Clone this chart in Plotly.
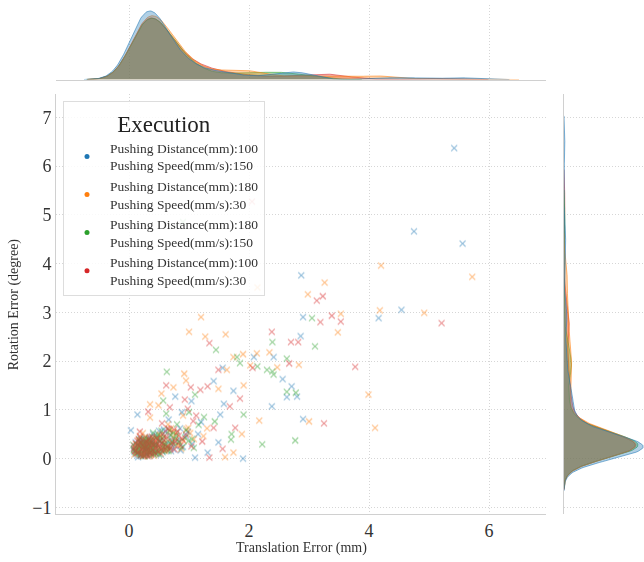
import numpy as np
import plotly.graph_objects as go

series_names = [
    "Pushing Distance(mm):100<br>Pushing Speed(mm/s):150",
    "Pushing Distance(mm):180<br>Pushing Speed(mm/s):30",
    "Pushing Distance(mm):180<br>Pushing Speed(mm/s):150",
    "Pushing Distance(mm):100<br>Pushing Speed(mm/s):30",
]
colors = ["#1f77b4", "#ff7f0e", "#2ca02c", "#d62728"]
x_ticks = [0, 2, 4, 6]
y_ticks = [-1, 0, 1, 2, 3, 4, 5, 6, 7]

# ---- series 1 (blue) ----
blue_trans = [
    5.42, 4.75, 5.56, 2.87, 4.54, 4.16, 2.90, 2.86, 2.90, 1.90, 2.38, 2.63, 2.80, 2.71, 2.56,
    2.41, 2.08, 1.56, 0.77, 1.04, 1.41, 1.74, 1.58, 1.52, 1.49, 1.31, 1.10, 0.14, 0.03,
    0.85, 1.20, 0.95, 0.60, 1.05, 0.72, 0.66, 1.15, 0.88,
    0.12, 0.18, 0.22, 0.25, 0.28, 0.31, 0.33, 0.35, 0.38, 0.41, 0.15, 0.20, 0.24, 0.27, 0.30,
    0.32, 0.36, 0.39, 0.44, 0.48, 0.10, 0.17, 0.21, 0.26, 0.29, 0.34, 0.37, 0.42, 0.52, 0.58,
    0.08, 0.14, 0.23, 0.31, 0.35, 0.40, 0.46, 0.55, 0.63, 0.70, 0.19, 0.27, 0.33, 0.28, 0.36,
    0.25, 0.30, 0.43, 0.50, 0.38,
    0.09, 0.13, 0.16, 0.21, 0.24, 0.29, 0.34, 0.37, 0.45, 0.51, 0.56, 0.61, 0.68, 0.74, 0.81,
    0.90, 0.98, 0.11, 0.19, 0.26, 0.32, 0.39, 0.47, 0.53, 0.65, 0.77, 0.86, 0.20, 0.28, 0.35,
    0.42, 0.58, 0.71, 0.15, 0.31,
]
blue_rot = [
    6.37, 4.66, 4.41, 3.76, 3.05, 2.88, 2.90, 2.51, 0.81, 0.00, 1.07, 1.26, 1.27, 1.48, 1.63,
    2.08, 2.08, 1.86, 1.27, 1.18, 1.59, 1.39, 1.12, 0.90, 0.33, 0.12, 0.02, 0.90, 0.58,
    0.62, 0.75, 0.45, 0.55, 0.30, 0.38, 0.80, 0.50, 0.95,
    0.10, 0.22, 0.15, 0.31, 0.08, 0.19, 0.26, 0.12, 0.35, 0.21, 0.28, 0.05, 0.18, 0.24, 0.40,
    0.14, 0.20, 0.09, 0.30, 0.17, 0.16, 0.33, 0.25, 0.11, 0.21, 0.29, 0.38, 0.13, 0.23, 0.45,
    0.20, 0.07, 0.36, 0.27, 0.18, 0.50, 0.10, 0.32, 0.26, 0.15, 0.42, 0.19, 0.06, 0.24, 0.13,
    0.28, 0.34, 0.22, 0.57, 0.17,
    0.14, 0.25, 0.09, 0.31, 0.18, 0.42, 0.06, 0.27, 0.21, 0.35, 0.13, 0.29, 0.48, 0.19, 0.38,
    0.24, 0.55, 0.33, 0.16, 0.22, 0.11, 0.30, 0.46, 0.08, 0.36, 0.26, 0.17, 0.39, 0.12, 0.44,
    0.20, 0.60, 0.28, 0.03, 0.23,
]

# ---- series 2 (orange) ----
orange_trans = [
    2.14, 4.20, 5.72, 3.26, 2.98, 4.18, 4.92, 1.20, 3.53, 3.48, 1.00, 1.27, 1.61, 3.99, 4.10,
    3.00, 2.17, 1.74, 1.24, 0.99, 0.35, 2.34, 2.83, 2.47, 2.13, 1.90, 1.74, 2.02, 1.63, 0.92,
    0.95, 0.74, 1.49, 1.91, 0.54, 0.35, 0.49, 1.88, 1.60,
    0.78, 1.08, 0.65, 0.90, 1.30, 0.58,
    0.14, 0.19, 0.24, 0.29, 0.33, 0.37, 0.42, 0.47, 0.53, 0.60, 0.11, 0.17, 0.22, 0.27, 0.31,
    0.35, 0.40, 0.45, 0.51, 0.66, 0.09, 0.16, 0.21, 0.26, 0.30, 0.34, 0.39, 0.44, 0.56, 0.74,
    0.13, 0.20, 0.25, 0.32, 0.38, 0.48, 0.62, 0.80, 0.23, 0.28, 0.36, 0.41, 0.18, 0.54, 0.70,
    0.10, 0.15, 0.20, 0.25, 0.30, 0.36, 0.41, 0.47, 0.53, 0.59, 0.66, 0.73, 0.82, 0.91, 1.02,
    0.12, 0.18, 0.23, 0.28, 0.34, 0.39, 0.46, 0.52, 0.63, 0.71, 0.87, 0.96, 0.21, 0.27, 0.33,
    0.44, 0.57, 0.68, 0.78, 0.17,
]
orange_rot = [
    3.51, 3.96, 3.73, 3.61, 3.37, 3.04, 2.99, 2.90, 2.97, 2.59, 2.60, 2.50, 2.55, 1.31, 0.63,
    0.76, 0.78, 0.12, 0.46, 0.63, 0.84, 2.18, 1.92, 1.87, 2.16, 2.14, 2.08, 1.91, 1.82, 1.74,
    1.60, 1.46, 1.43, 1.50, 1.33, 1.11, 1.09, 0.50, 0.03,
    0.52, 0.40, 0.70, 0.88, 0.62, 0.45,
    0.18, 0.09, 0.27, 0.14, 0.33, 0.21, 0.06, 0.39, 0.25, 0.16, 0.30, 0.22, 0.12, 0.44, 0.19,
    0.28, 0.11, 0.35, 0.47, 0.24, 0.08, 0.37, 0.20, 0.29, 0.15, 0.05, 0.42, 0.23, 0.31, 0.55,
    0.26, 0.17, 0.10, 0.38, 0.20, 0.13, 0.41, 0.27, 0.52, 0.34, 0.07, 0.25, 0.46, 0.19, 0.62,
    0.21, 0.12, 0.34, 0.07, 0.26, 0.17, 0.40, 0.23, 0.10, 0.31, 0.19, 0.44, 0.28, 0.36, 0.52,
    0.15, 0.27, 0.05, 0.38, 0.22, 0.30, 0.14, 0.49, 0.25, 0.33, 0.20, 0.61, 0.18, 0.43, 0.09,
    0.35, 0.24, 0.57, 0.41, 0.29,
]

# ---- series 3 (green) ----
green_trans = [
    3.05, 2.39, 3.10, 1.45, 2.22, 2.77, 2.63, 2.78, 2.39, 2.41, 2.63, 2.14, 2.30, 1.80, 1.85,
    0.63, 1.10, 0.57, 1.91, 1.71, 1.70, 1.43, 1.16, 0.90, 1.00, 0.80,
    0.70, 1.25, 0.95, 0.62, 1.05, 0.82,
    0.10, 0.16, 0.21, 0.26, 0.30, 0.34, 0.39, 0.45, 0.52, 0.61, 0.13, 0.19, 0.24, 0.28, 0.33,
    0.37, 0.43, 0.49, 0.57, 0.72, 0.07, 0.15, 0.22, 0.27, 0.31, 0.36, 0.41, 0.47, 0.55, 0.67,
    0.12, 0.18, 0.25, 0.32, 0.38, 0.44, 0.59, 0.78, 0.20, 0.29, 0.35, 0.40, 0.23, 0.50, 0.64,
    0.08, 0.14, 0.19, 0.23, 0.28, 0.33, 0.38, 0.44, 0.50, 0.56, 0.63, 0.70, 0.79, 0.88, 0.99,
    0.11, 0.17, 0.22, 0.26, 0.31, 0.37, 0.42, 0.48, 0.60, 0.74, 0.84, 1.08, 0.16, 0.25, 0.35,
    0.46, 0.54, 0.66, 0.93, 0.29,
]
green_rot = [
    2.88, 2.39, 2.30, 2.23, 0.29, 0.37, 1.37, 1.35, 1.79, 1.72, 2.05, 1.89, 1.82, 2.08, 1.96,
    1.78, 1.31, 1.19, 0.90, 0.50, 0.39, 0.76, 0.69, 4.85, 0.95, 0.70,
    0.48, 0.85, 0.58, 0.92, 0.40, 0.33,
    0.24, 0.12, 0.30, 0.18, 0.08, 0.36, 0.21, 0.14, 0.43, 0.27, 0.19, 0.33, 0.06, 0.25, 0.40,
    0.15, 0.29, 0.49, 0.22, 0.35, 0.28, 0.17, 0.10, 0.38, 0.23, 0.31, 0.09, 0.45, 0.16, 0.58,
    0.13, 0.26, 0.41, 0.20, 0.34, 0.11, 0.30, 0.48, 0.07, 0.19, 0.27, 0.53, 0.22, 0.37, 0.16,
    0.17, 0.28, 0.10, 0.37, 0.21, 0.14, 0.32, 0.25, 0.08, 0.41, 0.19, 0.30, 0.46, 0.23, 0.36,
    0.12, 0.39, 0.26, 0.05, 0.33, 0.18, 0.45, 0.13, 0.27, 0.52, 0.34, 0.22, 0.20, 0.31, 0.11,
    0.29, 0.57, 0.16, 0.43, 0.24,
]

# ---- series 4 (red) ----
red_trans = [
    2.05, 3.23, 3.13, 5.21, 3.38, 3.19, 3.53, 2.38, 2.70, 2.82, 1.34, 3.77, 3.25, 2.67, 2.06,
    1.49, 0.62, 1.03, 1.19, 0.68, 0.93, 1.31, 1.85, 1.68, 1.77, 1.34, 1.56, 1.41, 1.07, 0.32,
    0.75, 1.12, 0.88, 0.55, 1.22, 0.98,
    0.11, 0.17, 0.23, 0.27, 0.32, 0.36, 0.41, 0.46, 0.54, 0.63, 0.14, 0.20, 0.25, 0.29, 0.34,
    0.38, 0.43, 0.50, 0.58, 0.76, 0.08, 0.15, 0.21, 0.26, 0.31, 0.35, 0.40, 0.48, 0.56, 0.69,
    0.12, 0.19, 0.24, 0.30, 0.37, 0.45, 0.61, 0.83, 0.22, 0.28, 0.33, 0.42, 0.18, 0.52, 0.66,
    0.09, 0.13, 0.18, 0.22, 0.27, 0.32, 0.37, 0.43, 0.49, 0.55, 0.62, 0.69, 0.77, 0.86, 0.95,
    0.10, 0.16, 0.21, 0.25, 0.30, 0.35, 0.41, 0.47, 0.58, 0.72, 0.81, 1.04, 0.19, 0.26, 0.34,
    0.44, 0.51, 0.64, 0.89, 0.24,
]
red_rot = [
    5.27, 3.33, 3.24, 2.78, 2.93, 2.80, 2.81, 2.60, 2.39, 2.39, 2.37, 1.88, 0.72, 1.95, 1.86,
    1.82, 1.50, 1.46, 1.41, 1.05, 1.21, 1.48, 1.23, 1.07, 0.63, 0.02, 0.20, 0.63, 0.77, 0.96,
    0.60, 0.88, 0.42, 0.72, 0.35, 1.02,
    0.15, 0.27, 0.09, 0.34, 0.20, 0.12, 0.29, 0.41, 0.18, 0.24, 0.36, 0.07, 0.22, 0.16, 0.31,
    0.45, 0.11, 0.26, 0.38, 0.19, 0.21, 0.13, 0.39, 0.25, 0.05, 0.33, 0.17, 0.28, 0.50, 0.23,
    0.30, 0.44, 0.14, 0.26, 0.08, 0.35, 0.20, 0.47, 0.19, 0.10, 0.40, 0.32, 0.55, 0.24, 0.61,
    0.26, 0.11, 0.33, 0.19, 0.07, 0.29, 0.22, 0.37, 0.14, 0.31, 0.45, 0.20, 0.35, 0.27, 0.49,
    0.16, 0.40, 0.09, 0.24, 0.34, 0.13, 0.28, 0.42, 0.18, 0.32, 0.55, 0.25, 0.30, 0.15, 0.43,
    0.21, 0.36, 0.62, 0.39, 0.06,
]

trans = [blue_trans, orange_trans, green_trans, red_trans]
rots = [blue_rot, orange_rot, green_rot, red_rot]

FONT = "Liberation Serif, Times New Roman, serif"
BW_X, BW_Y = 0.26, 0.22
N_total = sum(len(t) for t in trans)


def kde(vals, bw, n_pts=400):
    v = np.asarray(vals, float)
    g = np.linspace(v.min() - 3 * bw, v.max() + 3 * bw, n_pts)
    d = np.exp(-0.5 * ((g[:, None] - v[None, :]) / bw) ** 2).sum(axis=1)
    d = d / (N_total * bw * np.sqrt(2 * np.pi))
    return g, d


def rgba(hexc, a):
    h = hexc.lstrip("#")
    r, g, b = int(h[0:2], 16), int(h[2:4], 16), int(h[4:6], 16)
    return f"rgba({r},{g},{b},{a})"


fig = go.Figure()

# scatter
for t, r, c in zip(trans, rots, colors):
    fig.add_trace(go.Scatter(
        x=t, y=r, mode="markers", showlegend=False, opacity=0.5,
        marker=dict(symbol="x-thin", size=6, color=c, line=dict(width=1.1, color=c)),
        xaxis="x", yaxis="y", hoverinfo="skip"))

# marginal KDEs (drawn in reverse order)
max_x_peak = 0
max_y_peak = 0
for i in [3, 2, 1, 0]:
    c = colors[i]
    gx, dx = kde(trans[i], BW_X)
    gy, dy = kde(rots[i], BW_Y)
    max_x_peak = max(max_x_peak, dx.max())
    max_y_peak = max(max_y_peak, dy.max())
    fig.add_trace(go.Scatter(
        x=gx, y=dx, mode="lines", fill="tozeroy", fillcolor=rgba(c, 0.35),
        line=dict(color=rgba(c, 0.55), width=1), showlegend=False,
        xaxis="x2", yaxis="y2", hoverinfo="skip"))
    fig.add_trace(go.Scatter(
        x=dy, y=gy, mode="lines", fill="tozerox", fillcolor=rgba(c, 0.35),
        line=dict(color=rgba(c, 0.55), width=1), showlegend=False,
        xaxis="x3", yaxis="y3", hoverinfo="skip"))

# legend entries
for name, c in zip(series_names, colors):
    fig.add_trace(go.Scatter(
        x=[None], y=[None], mode="markers", name=name,
        marker=dict(symbol="circle", size=5, color=c), xaxis="x", yaxis="y"))

X_RANGE = [-1.217, 6.95]
Y_RANGE = [-1.143, 7.47]
grid = dict(showgrid=True, gridcolor="#d6d6d6", griddash="1px,2px", gridwidth=1, zeroline=False)
tickfont = dict(family=FONT, size=18, color="#333333")

fig.update_layout(
    width=644, height=562,
    margin=dict(l=0, r=0, t=0, b=0),
    paper_bgcolor="white", plot_bgcolor="white",
    xaxis=dict(domain=[56 / 644, 546 / 644], range=X_RANGE, tickvals=x_ticks, **grid,
               showline=True, linecolor="#d0d0d0", linewidth=1, ticks="",
               tickfont=tickfont, anchor="y"),
    yaxis=dict(domain=[45 / 562, 467 / 562], range=Y_RANGE, tickvals=y_ticks, **grid,
               showline=True, linecolor="#d0d0d0", linewidth=1, ticks="",
               tickfont=tickfont, anchor="x"),
    xaxis2=dict(domain=[56 / 644, 546 / 644], range=X_RANGE, tickvals=x_ticks, **grid,
                showticklabels=False, showline=True, linecolor="#d0d0d0", anchor="y2"),
    yaxis2=dict(domain=[482 / 562, 557 / 562], range=[0, max_x_peak / 0.92],
                showgrid=False, zeroline=False, showticklabels=False, anchor="x2"),
    xaxis3=dict(domain=[564 / 644, 1.0], range=[0, max_y_peak * 1.01],
                showgrid=False, zeroline=False, showticklabels=False, anchor="y3"),
    yaxis3=dict(domain=[45 / 562, 467 / 562], range=Y_RANGE, tickvals=y_ticks, **grid,
                showticklabels=False, showline=True, linecolor="#d0d0d0", anchor="x3"),
    legend=dict(
        x=63 / 644, y=(562 - 102) / 562, xanchor="left", yanchor="top",
        bgcolor="rgba(255,255,255,0.85)", bordercolor="#dddddd", borderwidth=1,
        font=dict(family=FONT, size=13.5, color="#333333"),
        itemwidth=36,
        title=dict(text="Execution", side="top center",
                   font=dict(family=FONT, size=23, color="#222222")),
    ),
    annotations=[
        dict(text="Translation Error (mm)", x=301 / 644, y=(562 - 551) / 562,
             xref="paper", yref="paper", showarrow=False, xanchor="center", yanchor="middle",
             font=dict(family=FONT, size=14, color="#333333")),
        dict(text="Rotation Error (degree)", x=14 / 644, y=(562 - 306) / 562,
             xref="paper", yref="paper", showarrow=False, textangle=-90,
             xanchor="center", yanchor="middle",
             font=dict(family=FONT, size=14, color="#333333")),
    ],
)

fig.write_html("out.html", config={"displayModeBar": False},
               post_script="document.body.style.margin='0px';")
